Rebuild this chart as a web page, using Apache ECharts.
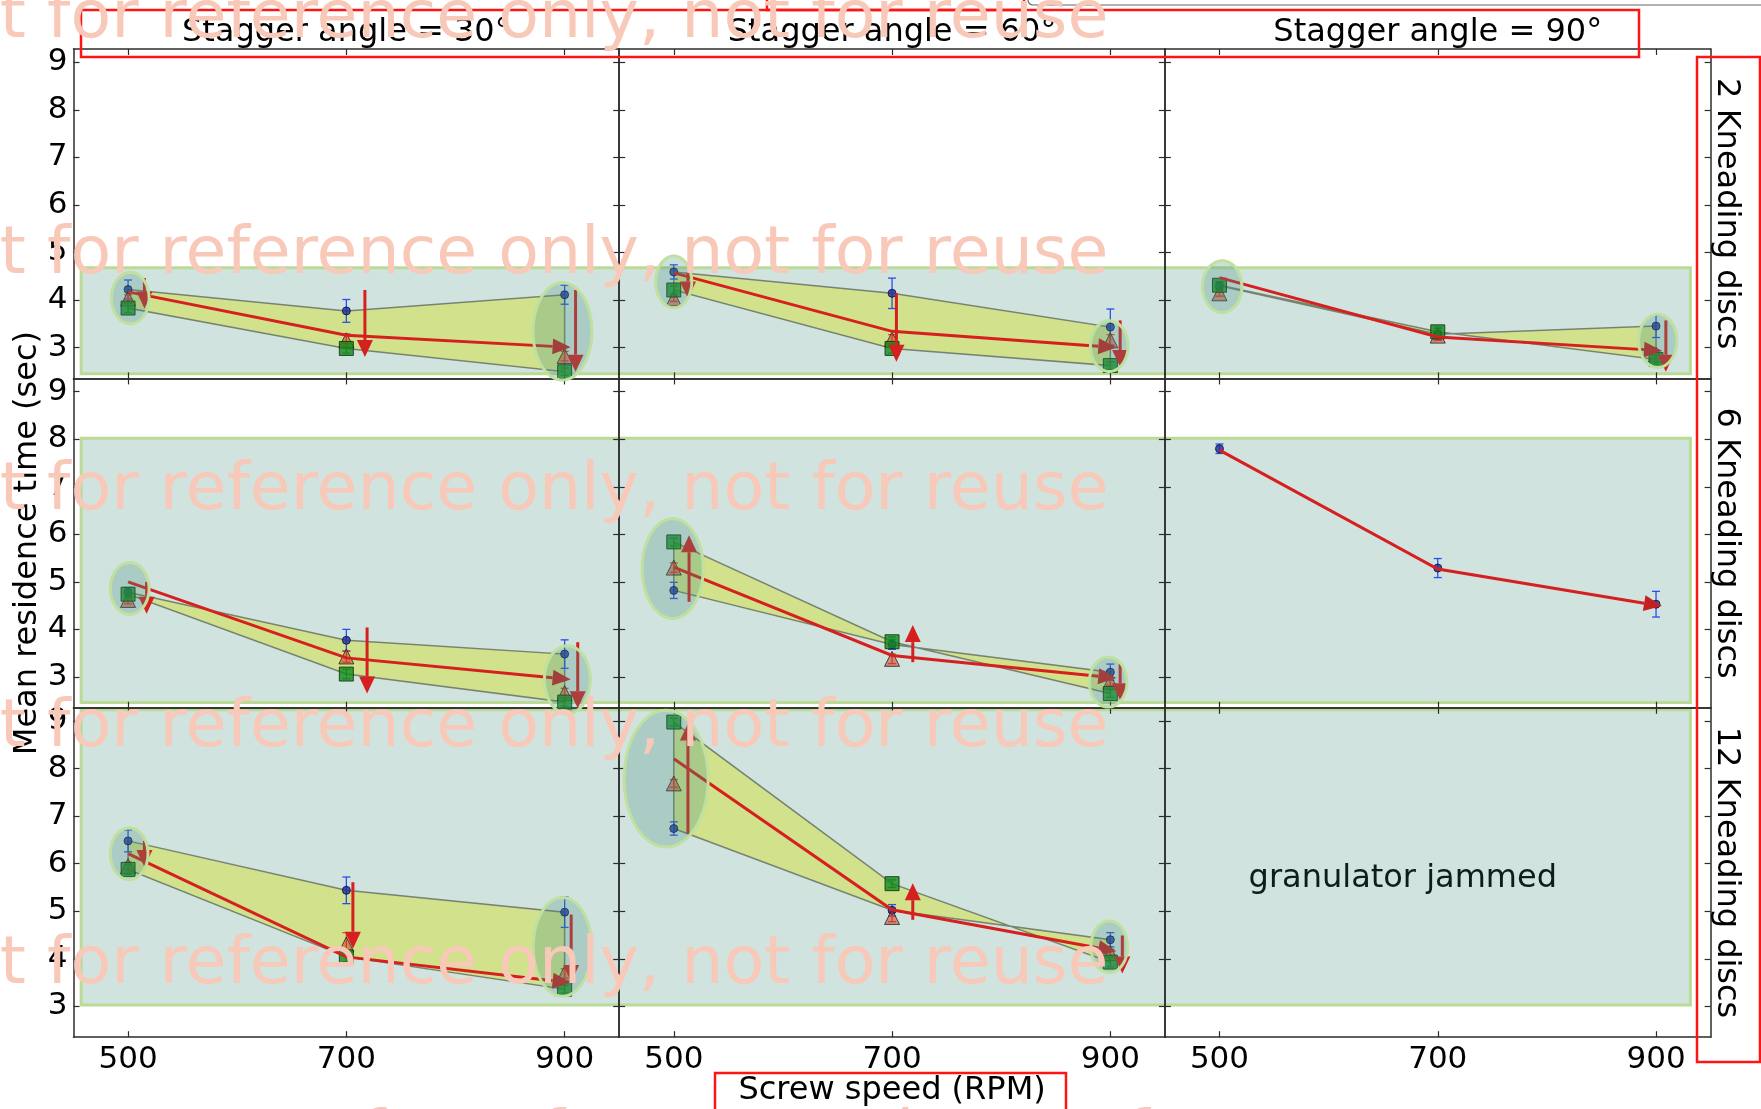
<!DOCTYPE html>
<html>
<head>
<meta charset="utf-8">
<script src="https://cdn.jsdelivr.net/npm/echarts@6/dist/echarts.min.js"></script>
<style>
  html, body { margin: 0; padding: 0; background: #fff; }
  #chart { width: 1761px; height: 1109px; }
</style>
</head>
<body>
<div id="chart"></div>
<script>
// ---- data -----------------------------------------------------------------
// Screw speeds (RPM) shared by every panel
const speeds = [500, 700, 900];
const xTickValues = [500, 700, 900];
const yTickValues = [3, 4, 5, 6, 7, 8, 9];

const staggerAngles = ['Stagger angle = 30°', 'Stagger angle = 60°', 'Stagger angle = 90°'];
const discCounts = ['2 Kneading discs', '6 Kneading discs', '12 Kneading discs'];
const yAxisTitle = 'Mean residence time (sec)';
const xAxisTitle = 'Screw speed (RPM)';
const jammedNote = 'granulator jammed';
const jammedAt = [668, 5.69];
const watermarkText = 'not for reference only, not for reuse';

// Panels are ordered row by row: rows = kneading discs (2, 6, 12), columns = stagger angle (30, 60, 90)
const circleMean = [
  [4.22, 3.77, 4.11], [4.59, 4.14, 3.43], [4.30, 3.28, 3.45],
  [4.78, 3.77, 3.48], [4.82, 3.68, 3.10], [7.80, 5.29, 4.53],
  [6.48, 5.44, 4.98], [6.74, 5.02, 4.40], null
];
const circleErr = [
  [0.20, 0.24, 0.20], [0.15, 0.32, 0.38], [0.08, 0.12, 0.24],
  [0.10, 0.23, 0.30], [0.17, 0.10, 0.17], [0.10, 0.20, 0.27],
  [0.23, 0.28, 0.32], [0.14, 0.12, 0.15], null
];
const triangleMean = [
  [4.03, 3.15, 2.82], [4.03, 3.17, 3.15], [4.14, 3.25, 2.85],
  [4.62, 3.43, 2.66], [5.30, 3.38, 2.90], null,
  [5.95, 4.30, 3.69], [7.69, 4.88, 4.12], null
];
const triangleErr = [
  [0.08, 0.14, 0.10], [0.06, 0.10, 0.12], [0.06, 0.10, 0.08],
  [0.08, 0.12, 0.10], [0.10, 0.10, 0.08], null,
  [0.08, 0.25, 0.10], [0.08, 0.10, 0.08], null
];
const squareMean = [
  [3.83, 2.98, 2.49], [4.21, 2.98, 2.62], [4.31, 3.33, 2.75],
  [4.74, 3.06, 2.47], [5.84, 3.74, 2.65], null,
  [5.88, 4.04, 3.36], [8.98, 5.58, 3.93], null
];
const squareErr = [
  [0.10, 0.10, 0.08], [0.08, 0.10, 0.08], [0.08, 0.10, 0.10],
  [0.08, 0.10, 0.08], [0.08, 0.10, 0.08], null,
  [0.10, 0.10, 0.08], [0.08, 0.08, 0.10], null
];
// overall trend through each speed (red line ending in an arrow)
const trendMean = [
  [4.17, 3.26, 3.01], [4.57, 3.34, 3.01], [4.47, 3.22, 2.94],
  [5.00, 3.40, 2.96], [5.31, 3.45, 2.99], [7.77, 5.27, 4.51],
  [6.21, 4.04, 3.51], [8.21, 5.03, 4.18], null
];
// shift arrows: [speed position, from, to]
const shiftArrows = [
  [[515, 4.46, 3.82], [717, 4.21, 2.80], [910, 4.21, 2.49]],
  [[513, 4.59, 4.03], [704, 4.14, 2.70], [909, 3.57, 2.59]],
  [[909, 3.57, 2.49]],
  [[517, 5.00, 4.33], [719, 4.04, 2.65], [912, 3.73, 2.34]],
  [[514, 4.58, 5.98], [719, 3.31, 4.09], [909, 3.28, 2.51]],
  [],
  [[515, 6.48, 5.93], [706, 5.61, 4.21], [906, 4.93, 3.51]],
  [[513, 6.63, 8.95], [719, 4.82, 5.59], [911, 4.49, 3.69]],
  []
];
// spread ellipses: [centre speed, centre time, width (RPM), height (sec)]
const spreadEllipses = [
  [[502, 4.04, 34.5, 1.08], [898, 3.34, 54, 2.05]],
  [[500, 4.38, 33, 1.09], [899, 3.03, 34.5, 1.07]],
  [[502.5, 4.28, 36, 1.09], [901.5, 3.14, 35, 1.12]],
  [[501.5, 4.86, 35.5, 1.09], [902.5, 2.94, 42, 1.43]],
  [[499, 5.28, 56, 2.1], [898, 2.89, 34.5, 1.05]],
  [],
  [[501, 6.21, 34.5, 1.09], [898, 4.25, 53.6, 2.08]],
  [[493, 7.79, 77, 2.88], [899, 4.25, 33.6, 1.09]],
  []
];
// shaded time window per row: [low, high]
const rowWindow = [[2.45, 4.68], [2.46, 8.02], [3.03, 9.24]];

// ---- layout ---------------------------------------------------------------
const GRID_LEFT = 73.5, GRID_TOP = 49, CELL_W = 545.7, CELL_H = 329.4;
const X_RANGE = [450, 950], Y_RANGE = [2.35, 9.28];
const WINDOW_X = [457, 931.5];   // horizontal extent of the row windows (first / last column)
const AXIS_COLOR = '#2c2c2c';
const FONT = 'DejaVu Sans';
const RED = '#d61f1f';

const chart = echarts.init(document.getElementById('chart'), null, { renderer: 'canvas' });

const grids = [], xAxes = [], yAxes = [], series = [];

function xAxisFor(g, pos, showLabel) {
  return {
    type: 'value', gridIndex: g, position: pos, min: X_RANGE[0], max: X_RANGE[1],
    axisLine: { show: true, onZero: false, lineStyle: { color: AXIS_COLOR, width: 1.5 } },
    axisTick: { show: true, inside: true, length: 6, customValues: xTickValues, lineStyle: { color: AXIS_COLOR, width: 1.2 } },
    axisLabel: { show: showLabel, customValues: xTickValues, margin: 7, fontSize: 31, fontFamily: FONT, color: '#000' },
    splitLine: { show: false }
  };
}
function yAxisFor(g, pos, showLabel) {
  return {
    type: 'value', gridIndex: g, position: pos, min: Y_RANGE[0], max: Y_RANGE[1],
    axisLine: { show: true, onZero: false, lineStyle: { color: AXIS_COLOR, width: 1.5 } },
    axisTick: { show: true, inside: true, length: 6, customValues: yTickValues, lineStyle: { color: AXIS_COLOR, width: 1.2 } },
    axisLabel: { show: showLabel, customValues: yTickValues, margin: 6, fontSize: 31, fontFamily: FONT, color: '#000' },
    splitLine: { show: false }
  };
}

function errorBars(g, means, errs, color) {
  return {
    type: 'custom', xAxisIndex: 2 * g, yAxisIndex: 2 * g, z: 3, silent: true,
    data: speeds.map((s, i) => [s, means[i], errs[i]]),
    renderItem(params, api) {
      const x = api.value(0), m = api.value(1), e = api.value(2);
      const top = api.coord([x, m + e]), bot = api.coord([x, m - e]);
      const cap = 4, st = { stroke: color, lineWidth: 1.3 };
      return {
        type: 'group', children: [
          { type: 'line', shape: { x1: top[0], y1: top[1], x2: bot[0], y2: bot[1] }, style: st },
          { type: 'line', shape: { x1: top[0] - cap, y1: top[1], x2: top[0] + cap, y2: top[1] }, style: st },
          { type: 'line', shape: { x1: bot[0] - cap, y1: bot[1], x2: bot[0] + cap, y2: bot[1] }, style: st }
        ]
      };
    }
  };
}

function markers(g, means, symbol, size, itemStyle) {
  return {
    type: 'scatter', xAxisIndex: 2 * g, yAxisIndex: 2 * g, z: 4, silent: true,
    symbol, symbolSize: size, itemStyle,
    data: speeds.map((s, i) => [s, means[i]])
  };
}

for (let r = 0; r < 3; r++) {
  for (let c = 0; c < 3; c++) {
    const g = r * 3 + c;
    grids.push({ left: GRID_LEFT + c * CELL_W, top: GRID_TOP + r * CELL_H, width: CELL_W, height: CELL_H,
                 containLabel: false, outerBoundsMode: 'none' });
    xAxes.push(xAxisFor(g, 'bottom', r === 2), xAxisFor(g, 'top', false));
    yAxes.push(yAxisFor(g, 'left', c === 0), yAxisFor(g, 'right', false));

    // band between the circle and square series
    if (circleMean[g] && squareMean[g]) {
      const rows = speeds.map((s, i) => [s, circleMean[g][i], squareMean[g][i]]);
      series.push({
        type: 'custom', xAxisIndex: 2 * g, yAxisIndex: 2 * g, z: 2, silent: true, data: rows,
        renderItem(params, api) {
          if (params.dataIndex !== 0) return null;
          const up = rows.map(d => api.coord([d[0], d[1]]));
          const lo = rows.map(d => api.coord([d[0], d[2]])).reverse();
          return { type: 'polygon', shape: { points: up.concat(lo) },
                   style: { fill: '#d1e18c', stroke: 'rgba(95,108,95,0.8)', lineWidth: 1.5 } };
        }
      });
    }

    if (circleMean[g]) series.push(errorBars(g, circleMean[g], circleErr[g], '#2c4fe6'));
    if (triangleMean[g]) series.push(errorBars(g, triangleMean[g], triangleErr[g], '#d4542c'));
    if (squareMean[g]) series.push(errorBars(g, squareMean[g], squareErr[g], '#2a8a2a'));

    if (circleMean[g]) series.push(markers(g, circleMean[g], 'circle', 8,
      { color: '#1c2f9a', borderColor: '#0a0a40', borderWidth: 1 }));
    if (triangleMean[g]) series.push(markers(g, triangleMean[g], 'triangle', 15,
      { color: 'rgba(205,45,25,0.62)', borderColor: '#222', borderWidth: 1 }));
    if (squareMean[g]) series.push(markers(g, squareMean[g], 'rect', 14,
      { color: '#138a1c', borderColor: '#0b2b0b', borderWidth: 1 }));

    // trend line with an arrow head past the last speed
    if (trendMean[g]) {
      const rows = speeds.map((s, i) => [s, trendMean[g][i]]);
      series.push({
        type: 'custom', xAxisIndex: 2 * g, yAxisIndex: 2 * g, z: 5, silent: true, data: rows,
        renderItem(params, api) {
          if (params.dataIndex !== 0) return null;
          const pts = rows.map(d => api.coord(d));
          const n = pts.length, a = pts[n - 2], b = pts[n - 1];
          const dx = b[0] - a[0], dy = b[1] - a[1], L = Math.hypot(dx, dy);
          const ux = dx / L, uy = dy / L;
          const tip = [b[0] + ux * 6, b[1] + uy * 6];
          const headLen = 18, half = 8;
          const base = [tip[0] - ux * headLen, tip[1] - uy * headLen];
          return {
            type: 'group', children: [
              { type: 'polyline', shape: { points: pts.slice(0, n - 1).concat([base]) },
                style: { stroke: RED, lineWidth: 3, fill: 'none' } },
              { type: 'polygon', shape: { points: [tip, [base[0] - uy * half, base[1] + ux * half], [base[0] + uy * half, base[1] - ux * half]] },
                style: { fill: '#c42020' } }
            ]
          };
        }
      });
    }

    // vertical shift arrows
    if (shiftArrows[g].length) {
      series.push({
        type: 'custom', xAxisIndex: 2 * g, yAxisIndex: 2 * g, z: 5, silent: true, data: shiftArrows[g],
        renderItem(params, api) {
          const x = api.value(0);
          const p0 = api.coord([x, api.value(1)]), p1 = api.coord([x, api.value(2)]);
          const dir = p1[1] > p0[1] ? 1 : -1;
          const headLen = 17, half = 8;
          const baseY = p1[1] - dir * headLen;
          return {
            type: 'group', children: [
              { type: 'line', shape: { x1: p0[0], y1: p0[1], x2: p1[0], y2: baseY }, style: { stroke: RED, lineWidth: 3 } },
              { type: 'polygon', shape: { points: [[p1[0], p1[1]], [p1[0] - half, baseY], [p1[0] + half, baseY]] }, style: { fill: RED } }
            ]
          };
        }
      });
    }

    // spread ellipses
    if (spreadEllipses[g].length) {
      series.push({
        type: 'custom', xAxisIndex: 2 * g, yAxisIndex: 2 * g, z: 6, silent: true, data: spreadEllipses[g],
        renderItem(params, api) {
          const ctr = api.coord([api.value(0), api.value(1)]);
          const sz = api.size([api.value(2), api.value(3)]);
          const rx = sz[0] / 2, ry = sz[1] / 2, pts = [];
          for (let k = 0; k < 72; k++) {
            const t = k / 72 * Math.PI * 2;
            pts.push([ctr[0] + rx * Math.cos(t), ctr[1] + ry * Math.sin(t)]);
          }
          return { type: 'polygon', shape: { points: pts },
                   style: { fill: 'rgba(70,145,130,0.28)', stroke: '#bfe09e', lineWidth: 3 } };
        }
      });
    }
  }
}

chart.setOption({
  animation: false,
  backgroundColor: '#ffffff',
  grid: grids, xAxis: xAxes, yAxis: yAxes, series
});

// ---- overlays placed from data coordinates --------------------------------
const toPx = (g, v) => chart.convertToPixel({ xAxisIndex: 2 * g, yAxisIndex: 2 * g }, v);
const graphics = [];

rowWindow.forEach((w, r) => {
  const tl = toPx(r * 3, [WINDOW_X[0], w[1]]);
  const br = toPx(r * 3 + 2, [WINDOW_X[1], w[0]]);
  graphics.push({ type: 'rect', z: -1, silent: true,
    shape: { x: tl[0], y: tl[1], width: br[0] - tl[0], height: br[1] - tl[1] },
    style: { fill: '#d1e3df', stroke: '#badb96', lineWidth: 3 } });
});

const textStyle = (text, size, extra) => Object.assign({ text, font: size + 'px "' + FONT + '"', fill: '#000',
  align: 'center', verticalAlign: 'middle' }, extra || {});

staggerAngles.forEach((t, c) => {
  graphics.push({ type: 'text', z: 50, silent: true, x: GRID_LEFT + (c + 0.5) * CELL_W, y: 33, style: textStyle(t, 32) });
});
discCounts.forEach((t, r) => {
  graphics.push({ type: 'text', z: 50, silent: true, x: 1726, y: GRID_TOP + (r + 0.5) * CELL_H,
    rotation: -Math.PI / 2, style: textStyle(t, 32) });
});
graphics.push({ type: 'text', z: 50, silent: true, x: 28, y: GRID_TOP + 1.5 * CELL_H,
  rotation: Math.PI / 2, style: textStyle(yAxisTitle, 32) });
graphics.push({ type: 'text', z: 50, silent: true, x: GRID_LEFT + 1.5 * CELL_W, y: 1091, style: textStyle(xAxisTitle, 32) });

const jam = toPx(8, jammedAt);
graphics.push({ type: 'text', z: 50, silent: true, x: jam[0], y: jam[1], style: textStyle(jammedNote, 32, { fill: '#0d1c1c' }) });

// annotation frames
const frame = (x, y, w, h, stroke, lw, r) => ({ type: 'rect', z: 60, silent: true,
  shape: { x, y, width: w, height: h, r: r || 0 }, style: { fill: 'none', stroke, lineWidth: lw } });
graphics.push(frame(81, 10, 1558, 47, '#ff1414', 2.5));
graphics.push(frame(767, -20, 257, 30, '#ff1414', 2.5));
graphics.push(frame(1028, -20, 800, 25, '#666666', 1.2, 5));
graphics.push(frame(1697, 57, 63, 1005, '#ff1414', 2.5));
graphics.push(frame(715, 1073, 351, 60, '#ff1414', 2.5));

// watermark rows
[[-83, 20], [-83, 256], [-83, 492], [-83, 729], [-83, 966], [232, 1140]].forEach(p => {
  graphics.push({ type: 'text', z: 100, silent: true, x: p[0], y: p[1],
    style: { text: watermarkText, font: '66.5px "' + FONT + '"', fill: '#f8c8b8', align: 'left', verticalAlign: 'middle' } });
});

chart.setOption({ graphic: { elements: graphics } });
</script>
</body>
</html>
